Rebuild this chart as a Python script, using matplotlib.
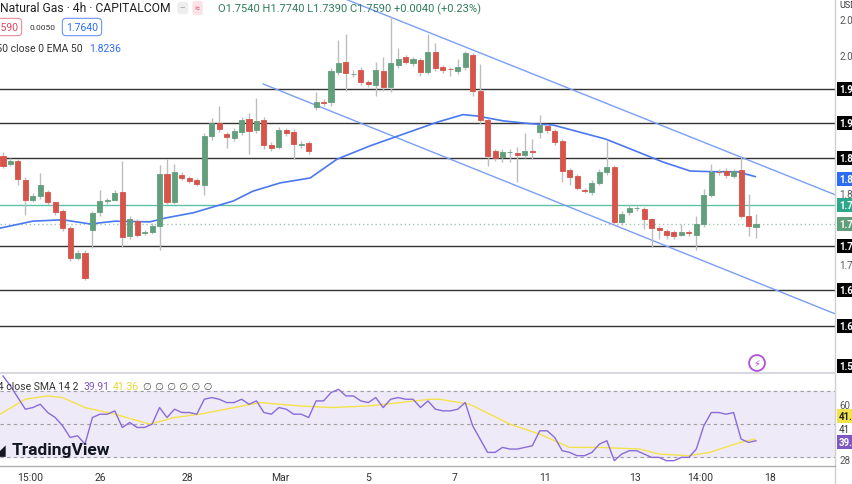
import matplotlib
matplotlib.use("Agg")
import matplotlib.pyplot as plt

# ---------------- data ----------------
opens = [1.857,1.845,1.850,1.822,1.794,1.799,1.805,1.791,1.778,1.753,1.710,1.718,1.751,1.776,1.792,1.794,1.805,1.742,1.763,1.746,
         1.748,1.756,1.831,1.791,1.829,1.825,1.822,1.815,1.885,1.904,1.888,1.883,1.891,1.910,1.894,1.908,1.872,1.870,1.894,1.891,
         1.872,1.875,1.927,1.934,1.934,1.977,1.992,1.974,1.980,1.963,1.959,1.979,1.956,1.987,1.999,1.990,1.994,1.977,2.006,1.984,
         1.982,1.979,1.984,2.002,1.950,1.908,1.864,1.855,1.862,1.861,1.858,1.864,1.891,1.900,1.893,1.878,1.837,1.828,1.808,1.805,
         1.818,1.834,1.841,1.762,1.776,1.782,1.781,1.766,1.753,1.749,1.748,1.743,1.748,1.743,1.759,1.801,1.834,1.835,1.828,1.837,
         1.771,1.754]
closes = [1.842,1.850,1.824,1.794,1.799,1.815,1.791,1.776,1.753,1.710,1.718,1.682,1.775,1.792,1.793,1.804,1.740,1.766,1.743,1.748,
          1.756,1.831,1.791,1.834,1.825,1.821,1.817,1.885,1.904,1.895,1.884,1.893,1.908,1.893,1.907,1.872,1.868,1.894,1.890,1.874,
          1.874,1.864,1.934,1.933,1.979,1.990,1.976,1.975,1.963,1.960,1.980,1.956,1.990,1.996,1.992,1.996,1.977,2.006,1.983,1.980,
          1.981,1.984,2.004,1.950,1.908,1.857,1.854,1.862,1.863,1.858,1.864,1.863,1.901,1.894,1.877,1.835,1.827,1.811,1.806,1.818,
          1.834,1.841,1.762,1.773,1.782,1.782,1.766,1.753,1.751,1.743,1.742,1.748,1.746,1.759,1.801,1.834,1.833,1.829,1.835,1.771,
          1.756,1.759]
highs = [1.862,1.853,1.852,1.826,1.803,1.832,1.808,1.779,1.781,1.756,1.722,1.721,1.778,1.808,1.796,1.808,1.850,1.770,1.766,1.751,
         1.760,1.843,1.852,1.845,1.833,1.828,1.825,1.889,1.911,1.928,1.891,1.897,1.912,1.918,1.940,1.912,1.876,1.898,1.897,1.895,
         1.878,1.878,1.949,1.938,1.983,2.023,2.032,1.980,1.984,1.965,1.992,1.999,2.058,2.012,2.002,1.999,1.997,2.032,2.019,1.987,
         1.985,1.996,2.008,2.005,1.989,1.911,1.866,1.866,1.867,1.870,1.890,1.881,1.915,1.903,1.896,1.881,1.840,1.831,1.810,1.822,
         1.838,1.878,1.844,1.777,1.786,1.785,1.784,1.768,1.756,1.752,1.751,1.759,1.751,1.771,1.809,1.845,1.838,1.840,1.838,1.855,
         1.802,1.774]
lows = [1.839,1.842,1.815,1.772,1.790,1.795,1.786,1.772,1.749,1.706,1.707,1.678,1.724,1.771,1.788,1.799,1.726,1.738,1.740,1.743,
        1.744,1.722,1.787,1.787,1.822,1.818,1.813,1.800,1.880,1.891,1.868,1.878,1.887,1.860,1.890,1.866,1.864,1.866,1.886,1.852,
        1.868,1.860,1.922,1.929,1.929,1.973,1.950,1.970,1.958,1.956,1.943,1.950,1.949,1.983,1.988,1.986,1.972,1.974,1.978,1.976,
        1.972,1.975,1.980,1.943,1.903,1.842,1.849,1.848,1.848,1.819,1.854,1.852,1.882,1.890,1.872,1.819,1.815,1.808,1.803,1.801,
        1.815,1.830,1.758,1.758,1.772,1.778,1.752,1.726,1.738,1.738,1.738,1.741,1.742,1.722,1.755,1.797,1.829,1.825,1.825,1.767,
        1.742,1.739]

ema_idx = [-0.4,4.0,8.0,11.7,15.0,19.7,22.0,25.5,30.9,33.5,37.2,41.2,44.8,49.2,53.7,58.2,61.7,63.6,67.1,70.7,73.8,80.8,84.1,88.5,92.2,95.2,98.5,100.9]
ema_val = [1.753,1.763,1.765,1.759,1.763,1.762,1.768,1.775,1.792,1.806,1.818,1.825,1.852,1.871,1.888,1.905,1.916,1.914,1.907,1.903,1.901,1.881,1.867,1.848,1.835,1.834,1.834,1.827]

rsi = [79,73,66,59,60,62,57,54,49,42,43,38,54,56,56,58,48,51,48,48,50,60,54,59,57,57,56,65,66,65,63,63,65,62,64,57,56,60,59,56,
       56,54,64,64,69,71,67,67,64,63,66,60,65,66,65,65,60,64,59,58,58,59,63,49,41,33,33,36,35,35,36,37,46,46,42,34,33,31,31,33,
       38,40,28,32,34,34,32,30,30,28,28,30,30,35,49,57,57,56,57,41,39,40]
sma_idx = [-0.4,3,6,8,11,15,19.7,23,26.4,31,34.5,39.8,43.9,49.2,53.3,57.3,58.6,62.6,68,72,76,80,85.4,88,92,94.8,98.9,100.9]
sma_val = [56,65,67,66,60,56,50,54,56,60,63,61,60,61,63,65,65,62,50,44,36,36,35,32,31,33,39,41]

hlines = [1.953,1.904,1.854,1.728,1.664,1.613]
teal_level = 1.786
last_price = 1.759
channel_upper = ([45.9,111.6],[2.082,1.801])
channel_lower = ([34.9,111.6],[1.960,1.630])

time_pos = [3.6,13.0,24.8,37.2,49.0,60.6,72.7,84.8,93.5,102.9]
time_lbl = ["15:00","26","28","Mar","5","7","11","13","14:00","18"]

# ---------------- figure ----------------
W, H = 852, 485
plt.rcParams["font.family"] = "Roboto"
fig = plt.figure(figsize=(W/100, H/100), dpi=100)
fig.patch.set_facecolor("white")

def fx(px): return px / W
def fy(py): return 1 - py / H

XL = (-0.4, 111.6)
ax = fig.add_axes([0, fy(374), fx(835), 374 / H])
ax.set_xlim(*XL)
ax.set_ylim(1.545, 2.082)
ax.axis("off")

for v in hlines:
    ax.axhline(v, color="#333333", lw=1, zorder=1)
ax.axhline(teal_level, color="#5cc3a8", lw=1, zorder=1)
ax.axhline(last_price, color="#9fc7b0", lw=1, ls=(0, (1, 2)), zorder=1)

ax.plot(*channel_upper, color="#7b9ef5", lw=1, zorder=2)
ax.plot(*channel_lower, color="#7b9ef5", lw=1, zorder=2)
ax.plot(ema_idx, ema_val, color="#4a78f0", lw=1.2, zorder=2)

GREEN, RED = "#629f7c", "#d6544a"
for i, (o, c, h, l) in enumerate(zip(opens, closes, highs, lows)):
    col = GREEN if c >= o else RED
    ax.vlines(i, l, h, color="#bdbdbd", lw=1, zorder=3)
    ax.bar(i, c - o, bottom=o, width=0.68, color=col, edgecolor=col, lw=0.6, zorder=4)

# RSI pane
ar = fig.add_axes([0, fy(467), fx(835), (467 - 375) / H])
ar.set_xlim(*XL)
ar.set_ylim(24.8, 80.2)
ar.axis("off")
ar.axhspan(30, 70, color="#efeaf8", zorder=0)
for v in (70, 50, 30):
    ar.axhline(v, color="#9e9e9e", lw=0.8, ls=(0, (3, 3)), zorder=1)
ar.plot(range(len(rsi)), rsi, color="#8a6bd9", lw=1, zorder=3)
ar.plot(sma_idx, sma_val, color="#f3e34a", lw=1, zorder=2)

# separators
fig.add_artist(plt.Line2D([fx(835), fx(835)], [0, 1], color="#d0d0d0", lw=1))
fig.add_artist(plt.Line2D([0, fx(835)], [fy(374), fy(374)], color="#d8d8e0", lw=1.5))
fig.add_artist(plt.Line2D([0, fx(835)], [fy(467), fy(467)], color="#b0b0b0", lw=1))

# time axis
for p, t in zip(time_pos, time_lbl):
    x = (p - XL[0]) / (XL[1] - XL[0]) * fx(835)
    fig.text(x, fy(478), t, ha="center", va="center", fontsize=7.5, color="#333333")

# right price labels
def rlabel(py, txt, bg, fg="white"):
    fig.text(fx(839), fy(py), txt, ha="left", va="center", fontsize=7, color=fg,
             fontweight="bold" if bg else "normal",
             bbox=dict(boxstyle="square,pad=0.25", fc=bg, ec="none") if bg else None)

fig.text(fx(839), fy(6), "USD", ha="left", va="center", fontsize=6.5, color="#333333")
rlabel(21, "2.060", None, "#555555")
rlabel(57, "2.000", None, "#555555")
for py, t in [(90, "1.9530"), (124, "1.9040"), (159, "1.8540"), (247, "1.7280"), (291, "1.6640"), (327, "1.6130"), (367, "1.5550")]:
    rlabel(py, t, "black")
rlabel(180, "1.8236", "#2f6cf6")
rlabel(195, "1.800", None, "#555555")
rlabel(206, "1.7860", "#2aa889")
rlabel(225, "1.7590", "#5e9f7a")
rlabel(266, "1.700", None, "#555555")
rlabel(406, "60", None, "#555555")
rlabel(417, "41.36", "#f3e34a", "#222222")
rlabel(430, "41", None, "#333333")
rlabel(443, "39.91", "#7e57c2")
rlabel(461, "28", None, "#555555")

# header
fig.text(fx(0), fy(9), "Natural Gas · 4h · CAPITALCOM", ha="left", va="center", fontsize=8.7, color="#222222")
fig.text(fx(180), fy(9), "—", ha="left", va="center", fontsize=5, color="#888888",
         bbox=dict(boxstyle="round,pad=0.4", fc="#eeeeee", ec="none"))
fig.text(fx(195), fy(9), "≈", ha="left", va="center", fontsize=6.5, color="#e04a6a",
         bbox=dict(boxstyle="round,pad=0.3", fc="#fbe3e8", ec="none"))
fig.text(fx(218), fy(9), "O1.7540 H1.7740 L1.7390 C1.7590 +0.0040 (+0.23%)", ha="left", va="center",
         fontsize=8, color="#2f7d5b")
fig.text(fx(-14), fy(28), "1.7590", ha="left", va="center", fontsize=7.5, color="#e0455a",
         bbox=dict(boxstyle="round,pad=0.35", fc="white", ec="#ef8a98", lw=0.8))
fig.text(fx(30), fy(28), "0.0050", ha="left", va="center", fontsize=6, color="#333333")
fig.text(fx(66), fy(28), "1.7640", ha="left", va="center", fontsize=7.5, color="#2f6cf6",
         bbox=dict(boxstyle="round,pad=0.35", fc="white", ec="#6d95f5", lw=0.8))
fig.text(fx(83), fy(49), "EMA 50 close 0 EMA 50", ha="right", va="center", fontsize=7.5, color="#333333")
fig.text(fx(89), fy(49), "1.8236", ha="left", va="center", fontsize=7.5, color="#2f6cf6")
fig.text(fx(-8), fy(68), " ", ha="left", va="center", fontsize=7,
         bbox=dict(boxstyle="round,pad=0.4", fc="white", ec="#d0d0d0", lw=0.8))

fig.text(fx(78), fy(387), "RSI 14 close SMA 14 2", ha="right", va="center", fontsize=7.5, color="#333333")
fig.text(fx(83), fy(387), "39.91", ha="left", va="center", fontsize=7.5, color="#7e57c2")
fig.text(fx(113), fy(387), "41.36", ha="left", va="center", fontsize=7.5, color="#e9d73a")
fig.text(fx(143), fy(387), "∅ ∅ ∅ ∅ ∅ ∅", ha="left", va="center", fontsize=7.3, color="#555555",
         fontfamily="DejaVu Sans")

fig.text(fx(-6), fy(451), "◢", ha="left", va="center", fontsize=11, color="#131722", fontfamily="DejaVu Sans")
fig.text(fx(12), fy(451), "TradingView", ha="left", va="center", fontsize=12.5, fontweight="bold", color="#131722")

# lightning icon
fig.text(fx(757), fy(364), "⚡", ha="center", va="center", fontsize=7, color="#b34fd6", fontfamily="DejaVu Sans",
         bbox=dict(boxstyle="circle,pad=0.3", fc="white", ec="#b34fd6", lw=1.3))

fig.savefig("out.png", dpi=100)
